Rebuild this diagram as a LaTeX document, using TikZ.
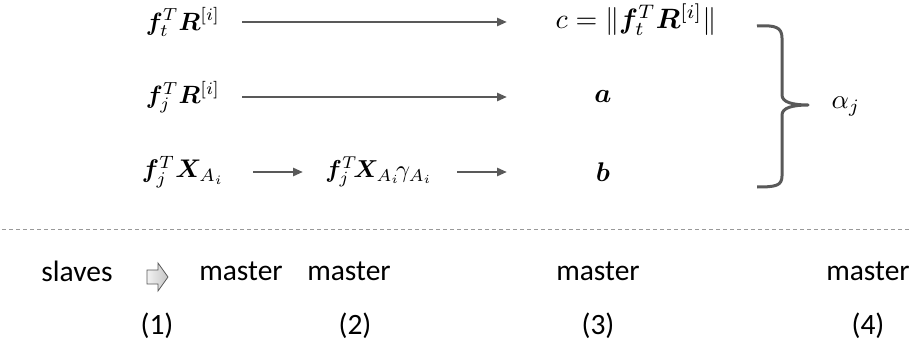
\documentclass[tikz,border=0pt]{standalone}
\usepackage{amsmath}
\usepackage{bm}
\usepackage{graphicx}
\usepackage{fontspec}
\setmainfont{Carlito}
\usetikzlibrary{arrows.meta}
\definecolor{ink}{HTML}{595959}
\newcommand{\mymath}[2][2.7]{\scalebox{#1}{$#2$}}
\begin{document}
\begin{tikzpicture}[x=1pt,y=-1pt,
  mth/.style={inner sep=0pt, anchor=center},
  txt/.style={font=\fontsize{29.5}{34}\selectfont, inner sep=0pt, anchor=center},
  arr/.style={draw=ink, line width=2.5pt, -{Triangle[length=10pt,width=8pt]}},
  brc/.style={draw=ink, line width=3pt, line join=round},
  sep/.style={draw=gray!80, line width=1pt, dash pattern=on 4pt off 3pt}]
\useasboundingbox (0,0) rectangle (913,350);
% top rows
\node[mth] (n1) at (183,22) {\mymath[2.5]{\bm{f}_t^T\bm{R}^{[i]}}};
\node[mth] (n2) at (183,97) {\mymath[2.5]{\bm{f}_j^T\bm{R}^{[i]}}};
\node[mth] (n3) at (183,172) {\mymath[2.55]{\bm{f}_j^T\bm{X}_{A_i}}};
\node[mth] (n4) at (379,172) {\mymath[2.45]{\bm{f}_j^T\!\bm{X}_{A_i}\!\gamma_{A_i}}};
\node[mth] (c) at (636,20) {\mymath[2.8]{c=\|\bm{f}_t^T\bm{R}^{[i]}\|}};
\node[mth] (a) at (603,97) {\mymath{\bm{a}}};
\node[mth] (b) at (603,172) {\mymath{\bm{b}}};
\node[mth] (al) at (846,107) {\mymath{\alpha_j}};
\coordinate (s1) at (242,22); \coordinate (e1) at (507,22);
\coordinate (s2) at (242,97); \coordinate (e2) at (507,97);
\coordinate (s3) at (253,172); \coordinate (e3) at (303,172);
\coordinate (s4) at (457,172); \coordinate (e4) at (507,172);
\draw[arr] (s1) -- (e1);
\draw[arr] (s2) -- (e2);
\draw[arr] (s3) -- (e3);
\draw[arr] (s4) -- (e4);
% brace
\draw[brc] (757,26) .. controls (775,25) and (782,27) .. (782,38) -- (782,95)
  .. controls (782,102) and (792,105) .. (808,105)
  .. controls (792,105) and (782,108) .. (782,115) -- (782,176)
  .. controls (782,186) and (775,187) .. (757,187);
% separator
\coordinate (l0) at (2,229); \coordinate (l1) at (911,229);
\draw[sep] (l0) -- (l1);
% bottom
\node[txt] (sl) at (77,271) {slaves};
\node[txt] (m1) at (241,271) {master};
\node[txt] (m2) at (349,271) {master};
\node[txt] (m3) at (598,271) {master};
\node[txt] (m4) at (868,271) {master};
\draw[draw=ink, line width=0.8pt, left color=gray!10, right color=gray!45]
  (147,270) -- (158,270) -- (158,263) -- (168,277) -- (158,291) -- (158,284) -- (147,284) -- cycle;
\node[txt] (p1) at (157,326) {(1)};
\node[txt] (p2) at (355,326) {(2)};
\node[txt] (p3) at (598,326) {(3)};
\node[txt] (p4) at (868,326) {(4)};
\end{tikzpicture}
\end{document}
